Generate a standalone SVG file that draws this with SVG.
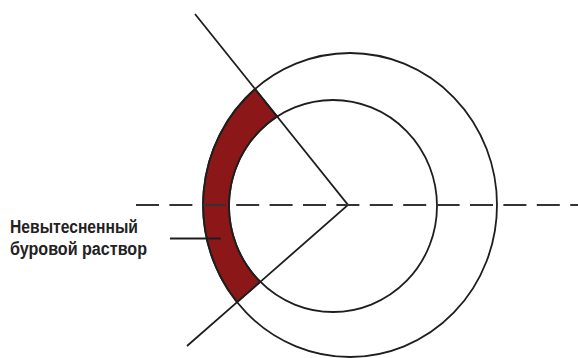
<svg xmlns="http://www.w3.org/2000/svg" width="578" height="358" viewBox="0 0 578 358">
<style>
.ln{fill:none;stroke:#1e1e1e;stroke-width:1.8}
.dash{fill:none;stroke:#333;stroke-width:2;stroke-dasharray:23 10.4}
.lbl{font-family:"Liberation Sans",Arial,sans-serif;font-weight:bold;font-size:18px;fill:#222}
</style>
<rect width="578" height="358" fill="#fff"/>
<g id="mud">
<path d="M255,89 A147,152 0 0 0 237.1,302.1 L260.3,281.8 A104,106 0 0 1 277.2,116.6 Z" fill="#8b1719" stroke="#1e1e1e" stroke-width="1.7"/>
</g>
<g id="outer-circle">
<ellipse class="ln" cx="350" cy="205" rx="147" ry="152"/>
</g>
<g id="inner-circle">
<ellipse class="ln" cx="333" cy="206" rx="104" ry="106"/>
</g>
<g id="connectors">
<polyline class="ln" points="195,14 348,205 187,346"/>
<line class="dash" x1="136" y1="205" x2="578" y2="205"/>
<line class="ln" x1="170" y1="238.5" x2="221" y2="238.5"/>
</g>
<g id="label">
<text class="lbl" x="10" y="233" textLength="128" lengthAdjust="spacingAndGlyphs">Невытесненный</text>
<text class="lbl" x="10" y="255" textLength="137" lengthAdjust="spacingAndGlyphs">буровой раствор</text>
</g>
</svg>
